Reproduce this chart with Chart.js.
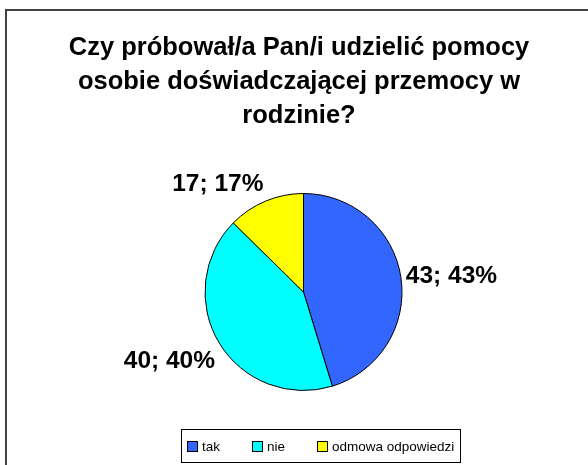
<!DOCTYPE html>
<html><head><meta charset="utf-8">
<script src="https://cdn.jsdelivr.net/npm/chart.js@4/dist/chart.umd.min.js"></script>
<style>html,body{margin:0;padding:0;background:#fff;overflow:hidden}#c{display:block}</style>
</head><body>
<canvas id="c" width="588" height="465"></canvas>
<script>
// ---- data ----
const titleLines = ["Czy próbował/a Pan/i udzielić pomocy", "osobie doświadczającej przemocy w", "rodzinie?"];
const categories = ["tak", "nie", "odmowa odpowiedzi"];
const sliceValues = [43, 40, 12];          // slice sizes as drawn
const labelCounts = [43, 40, 17];          // numbers printed in labels
const labelPercents = [43, 40, 17];        // percentages printed in labels
const colors = ["#3366FF", "#00FFFF", "#FFFF00"];

const FONT = "'Liberation Sans', Arial, sans-serif";

const framePlugin = {
  id: 'frame',
  beforeDraw(chart) {
    const ctx = chart.ctx;
    ctx.save();
    ctx.fillStyle = '#fff';
    ctx.fillRect(0, 0, chart.width, chart.height);
    ctx.strokeStyle = '#444';
    ctx.lineWidth = 2;
    ctx.strokeRect(6, 10, 700, 700);
    ctx.restore();
  }
};

const titlePlugin = {
  id: 'ctitle',
  afterDraw(chart) {
    const ctx = chart.ctx;
    ctx.save();
    ctx.fillStyle = '#000';
    ctx.font = "bold 25.5px " + FONT;
    ctx.textAlign = 'center';
    ctx.textBaseline = 'alphabetic';
    titleLines.forEach((t, i) => ctx.fillText(t, 299, 55 + i * 34));
    ctx.restore();
  }
};

const labelPlugin = {
  id: 'plabels',
  afterDatasetsDraw(chart) {
    const ctx = chart.ctx;
    const meta = chart.getDatasetMeta(0);
    ctx.save();
    ctx.fillStyle = '#000';
    ctx.font = "bold 24.5px " + FONT;
    meta.data.forEach((arc, i) => {
      const p = arc.getProps(['x', 'y', 'startAngle', 'endAngle', 'outerRadius'], true);
      const mid = (p.startAngle + p.endAngle) / 2;
      const r = p.outerRadius + 5;
      const px = p.x + Math.cos(mid) * r;
      const py = p.y + Math.sin(mid) * r;
      ctx.textAlign = Math.cos(mid) >= 0 ? 'left' : 'right';
      const s = Math.sin(mid);
      ctx.textBaseline = s < -0.5 ? 'bottom' : (s > 0.3 ? 'top' : 'middle');
      ctx.fillText(labelCounts[i] + '; ' + labelPercents[i] + '%', px, py + (s > 0.3 ? 3 : 0));
    });
    ctx.restore();
  }
};

const legendPlugin = {
  id: 'clegend',
  afterDraw(chart) {
    const ctx = chart.ctx;
    ctx.save();
    ctx.font = "13.5px " + FONT;
    const box = 10, gapText = 5, gapItem = 32, padX = 6;
    const widths = categories.map(c => ctx.measureText(c).width);
    let total = 0;
    widths.forEach((w, i) => { total += box + gapText + w + (i < widths.length - 1 ? gapItem : 0); });
    const boxW = Math.round(total + padX * 2);
    const left = Math.round(320 - boxW / 2);
    const top = 429, h = 33;
    ctx.strokeStyle = '#000';
    ctx.lineWidth = 1;
    ctx.strokeRect(left + 0.5, top + 0.5, boxW, h);
    let x = left + padX;
    const cy = Math.round(top + h / 2);
    categories.forEach((c, i) => {
      ctx.fillStyle = colors[i];
      ctx.fillRect(x + 0.5, cy - box / 2 + 0.5, box, box);
      ctx.strokeStyle = '#000';
      ctx.strokeRect(x + 0.5, cy - box / 2 + 0.5, box, box);
      ctx.fillStyle = '#000';
      ctx.textAlign = 'left';
      ctx.textBaseline = 'middle';
      ctx.fillText(c, x + box + gapText, cy + 1);
      x += box + gapText + widths[i] + gapItem;
    });
    ctx.restore();
  }
};

new Chart(document.getElementById('c'), {
  type: 'pie',
  data: {
    labels: categories,
    datasets: [{
      data: sliceValues,
      backgroundColor: colors,
      borderColor: '#000',
      borderWidth: 1,
      hoverBorderWidth: 1,
      hoverOffset: 0
    }]
  },
  options: {
    responsive: false,
    devicePixelRatio: 1,
    animation: false,
    layout: { padding: { top: 193, bottom: 74, left: 19, right: 0 } },
    plugins: {
      legend: { display: false },
      tooltip: { enabled: false },
      title: { display: false }
    }
  },
  plugins: [framePlugin, titlePlugin, labelPlugin, legendPlugin]
});
</script>
</body></html>
